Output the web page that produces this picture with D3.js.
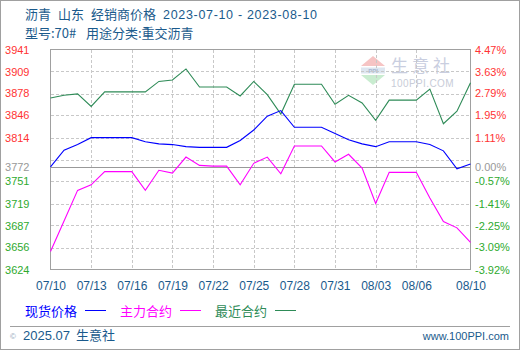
<!DOCTYPE html>
<html>
<head>
<meta charset="utf-8">
<script src="https://cdn.jsdelivr.net/npm/d3@7"></script>
<style>
  html, body { margin: 0; padding: 0; background: #fff; }
  svg { display: block; }
  text { font-family: "Liberation Sans", Arial, sans-serif; }
  .cjk { font-family: "Noto Sans CJK SC", sans-serif; }
</style>
</head>
<body>
<svg id="chart" width="520" height="350"></svg>
<script>
// Daily dates (2023), weekends carry the previous trading value
const year = 2023;
const dates = [
  "07/10","07/11","07/12","07/13","07/14","07/15","07/16","07/17","07/18","07/19",
  "07/20","07/21","07/22","07/23","07/24","07/25","07/26","07/27","07/28","07/29",
  "07/30","07/31","08/01","08/02","08/03","08/04","08/05","08/06","08/07","08/08",
  "08/09","08/10"
];
// 现货价格
const spotPrice = [
  3772, 3796, 3804, 3814, 3814, 3814, 3814, 3808, 3805, 3804,
  3801, 3800, 3800, 3800, 3810, 3825, 3845, 3853, 3829, 3829,
  3829, 3820, 3811, 3805, 3801, 3808, 3808, 3808, 3804, 3795,
  3769, 3776
];
// 主力合约
const mainContract = [
  3650, 3694, 3738, 3746, 3765, 3765, 3765, 3738, 3767, 3763,
  3786, 3774, 3773, 3773, 3746, 3777, 3786, 3762, 3802, 3802,
  3802, 3779, 3790, 3770, 3719, 3764, 3764, 3764, 3727, 3693,
  3684, 3663
];
// 最近合约
const nearContract = [
  3871, 3875, 3877, 3859, 3880, 3880, 3880, 3880, 3895, 3897,
  3913, 3887, 3887, 3887, 3874, 3895, 3876, 3848, 3891, 3891,
  3891, 3862, 3875, 3864, 3839, 3868, 3868, 3868, 3884, 3834,
  3852, 3893
];
const seriesNames = ["现货价格", "主力合约", "最近合约"];
const seriesColors = ["#0000ff", "#ff00ff", "#2e8b57"];

// Axis labels
const xTickLabels = ["07/10","07/13","07/16","07/19","07/22","07/25","07/28","07/31","08/03","08/06","08/10"];
const leftTicks = [3941, 3909, 3878, 3846, 3814, 3772, 3751, 3719, 3687, 3656, 3624];
const rightTickLabels = ["4.47%","3.63%","2.79%","1.95%","1.11%","0.00%","-0.57%","-1.41%","-2.25%","-3.09%","-3.92%"];
const baseValue = 3772;
const gridValues = [3909.3, 3877.6, 3845.9, 3814.2, 3782.5, 3750.8, 3719.1, 3687.4, 3655.7];

const titleColor = "#1a5a8c";
const upColor = "#ff3333";
const downColor = "#2eaa2e";
const zeroColor = "#999999";

const svg = d3.select("#chart");
const parse = d3.utcParse("%Y/%m/%d");
const toDate = s => parse(year + "/" + s);

const plot = { left: 50.5, right: 470.5, top: 49.5, bottom: 269.5 };

const x = d3.scaleUtc()
  .domain([toDate(dates[0]), toDate(dates[dates.length - 1])])
  .range([plot.left, plot.right]);
const y = d3.scaleLinear()
  .domain([3624, 3941])
  .range([plot.bottom, plot.top]);

// Outer frame
svg.append("rect").attr("x", 0.5).attr("y", 0.5).attr("width", 519).attr("height", 349)
  .attr("fill", "none").attr("stroke", "#a0a0a0");

// Title lines
const t1 = svg.append("g").attr("fill", titleColor).attr("font-size", 13);
t1.append("text").attr("class", "cjk").attr("x", 25).attr("y", 19).text("沥青");
t1.append("text").attr("class", "cjk").attr("x", 58).attr("y", 19).text("山东");
t1.append("text").attr("class", "cjk").attr("x", 91).attr("y", 19).text("经销商价格");
t1.append("text").attr("x", 163).attr("y", 19).attr("textLength", 154)
  .attr("font-size", 12.5).text("2023-07-10 - 2023-08-10");
t1.append("text").attr("class", "cjk").attr("x", 25).attr("y", 38).text("型号:70#");
t1.append("text").attr("class", "cjk").attr("x", 86).attr("y", 38).text("用途分类:重交沥青");

// Watermark
const wm = svg.append("g");
wm.append("path").attr("d", "M373,56 L385,66 L361,66 Z").attr("fill", "#f6c4c4");
wm.append("rect").attr("x", 361).attr("y", 67.5).attr("width", 24).attr("height", 6).attr("fill", "#dde6f0");
wm.append("text").attr("x", 373).attr("y", 73).attr("text-anchor", "middle")
  .attr("font-size", 6).attr("font-weight", "bold").attr("fill", "#a9b8d0").text("PPI");
wm.append("path").attr("d", "M361,75 L385,75 L373,85 Z").attr("fill", "#c9ecd0");
wm.append("text").attr("class", "cjk").attr("x", 391).attr("y", 71.5).attr("font-size", 17)
  .attr("letter-spacing", 4).attr("fill", "#c9cee0").text("生意社");
wm.append("text").attr("x", 391).attr("y", 86.5).attr("font-size", 10)
  .attr("letter-spacing", 0.4).attr("fill", "#c8ccd8").text("100PPI.COM");

// Grid
const grid = svg.append("g").attr("stroke", "#c8c8c8").attr("stroke-dasharray", "3,2")
  .attr("shape-rendering", "crispEdges");
grid.selectAll("line.h").data(gridValues).join("line").attr("class", "h")
  .attr("x1", plot.left).attr("x2", plot.right)
  .attr("y1", d => Math.round(y(d)) + 0.5).attr("y2", d => Math.round(y(d)) + 0.5);
grid.selectAll("line.v").data(xTickLabels.slice(1, -1)).join("line").attr("class", "v")
  .attr("y1", plot.top).attr("y2", plot.bottom)
  .attr("x1", d => Math.round(x(toDate(d))) + 0.5).attr("x2", d => Math.round(x(toDate(d))) + 0.5);

// Base line and plot border
svg.append("line").attr("x1", plot.left).attr("x2", plot.right)
  .attr("y1", Math.round(y(baseValue)) + 0.5).attr("y2", Math.round(y(baseValue)) + 0.5)
  .attr("stroke", "#999").attr("shape-rendering", "crispEdges");
svg.append("rect").attr("x", plot.left).attr("y", plot.top)
  .attr("width", plot.right - plot.left).attr("height", plot.bottom - plot.top)
  .attr("fill", "none").attr("stroke", "#a0a0a0").attr("shape-rendering", "crispEdges");

// Series lines
const allSeries = [spotPrice, mainContract, nearContract];
const line = d3.line().x((d, i) => x(toDate(dates[i]))).y(d => y(d));
// draw near contract first, spot on top
[2, 1, 0].forEach(k => {
  svg.append("path").datum(allSeries[k])
    .attr("d", line).attr("fill", "none")
    .attr("stroke", seriesColors[k]).attr("stroke-width", 1.1);
});

// Left axis
const tickColor = v => v > baseValue ? upColor : (v < baseValue ? downColor : zeroColor);
const leftAxis = svg.append("g").attr("transform", `translate(${plot.left},0)`)
  .call(d3.axisLeft(y).tickValues(leftTicks).tickSize(0).tickPadding(21).tickFormat(d3.format("d")));
leftAxis.select(".domain").remove();
leftAxis.selectAll("text").attr("font-size", 11).attr("font-family", "Liberation Sans, Arial, sans-serif")
  .attr("fill", d => tickColor(d));

// Right axis
const rightAxis = svg.append("g").attr("transform", `translate(${plot.right},0)`)
  .call(d3.axisRight(y).tickValues(leftTicks).tickSize(0).tickPadding(4.5)
    .tickFormat((d, i) => rightTickLabels[i]));
rightAxis.select(".domain").remove();
rightAxis.selectAll("text").attr("font-size", 11).attr("font-family", "Liberation Sans, Arial, sans-serif")
  .attr("fill", d => tickColor(d));

// Bottom axis
const bottomAxis = svg.append("g").attr("transform", `translate(0,${plot.bottom})`)
  .call(d3.axisBottom(x).tickValues(xTickLabels.map(toDate)).tickSize(0).tickPadding(12)
    .tickFormat((d, i) => xTickLabels[i]));
bottomAxis.select(".domain").remove();
bottomAxis.selectAll("text").attr("font-size", 12).attr("font-family", "Liberation Sans, Arial, sans-serif")
  .attr("fill", titleColor);

// Legend
const legendX = [25, 120, 215];
const legend = svg.append("g");
seriesNames.forEach((name, i) => {
  legend.append("text").attr("class", "cjk").attr("x", legendX[i]).attr("y", 315.5)
    .attr("font-size", 13).attr("fill", seriesColors[i]).text(name);
  legend.append("line").attr("x1", legendX[i] + 60).attr("x2", legendX[i] + 81)
    .attr("y1", 310.5).attr("y2", 310.5).attr("stroke", seriesColors[i]);
});

// Footer
svg.append("line").attr("x1", 10).attr("x2", 510).attr("y1", 326.5).attr("y2", 326.5)
  .attr("stroke", "#a0a0a0");
svg.append("text").attr("x", 10).attr("y", 339).attr("font-size", 8).attr("fill", "#8aa0b8").text("©");
svg.append("text").attr("x", 23).attr("y", 340).attr("font-size", 13).attr("fill", titleColor).text("2025.07");
svg.append("text").attr("class", "cjk").attr("x", 76).attr("y", 340).attr("font-size", 13)
  .attr("fill", titleColor).text("生意社");
svg.append("text").attr("x", 509).attr("y", 340).attr("text-anchor", "end")
  .attr("font-family", "Liberation Mono, monospace").attr("font-size", 11)
  .attr("fill", titleColor).text("www.100PPI.com");
</script>
</body>
</html>
